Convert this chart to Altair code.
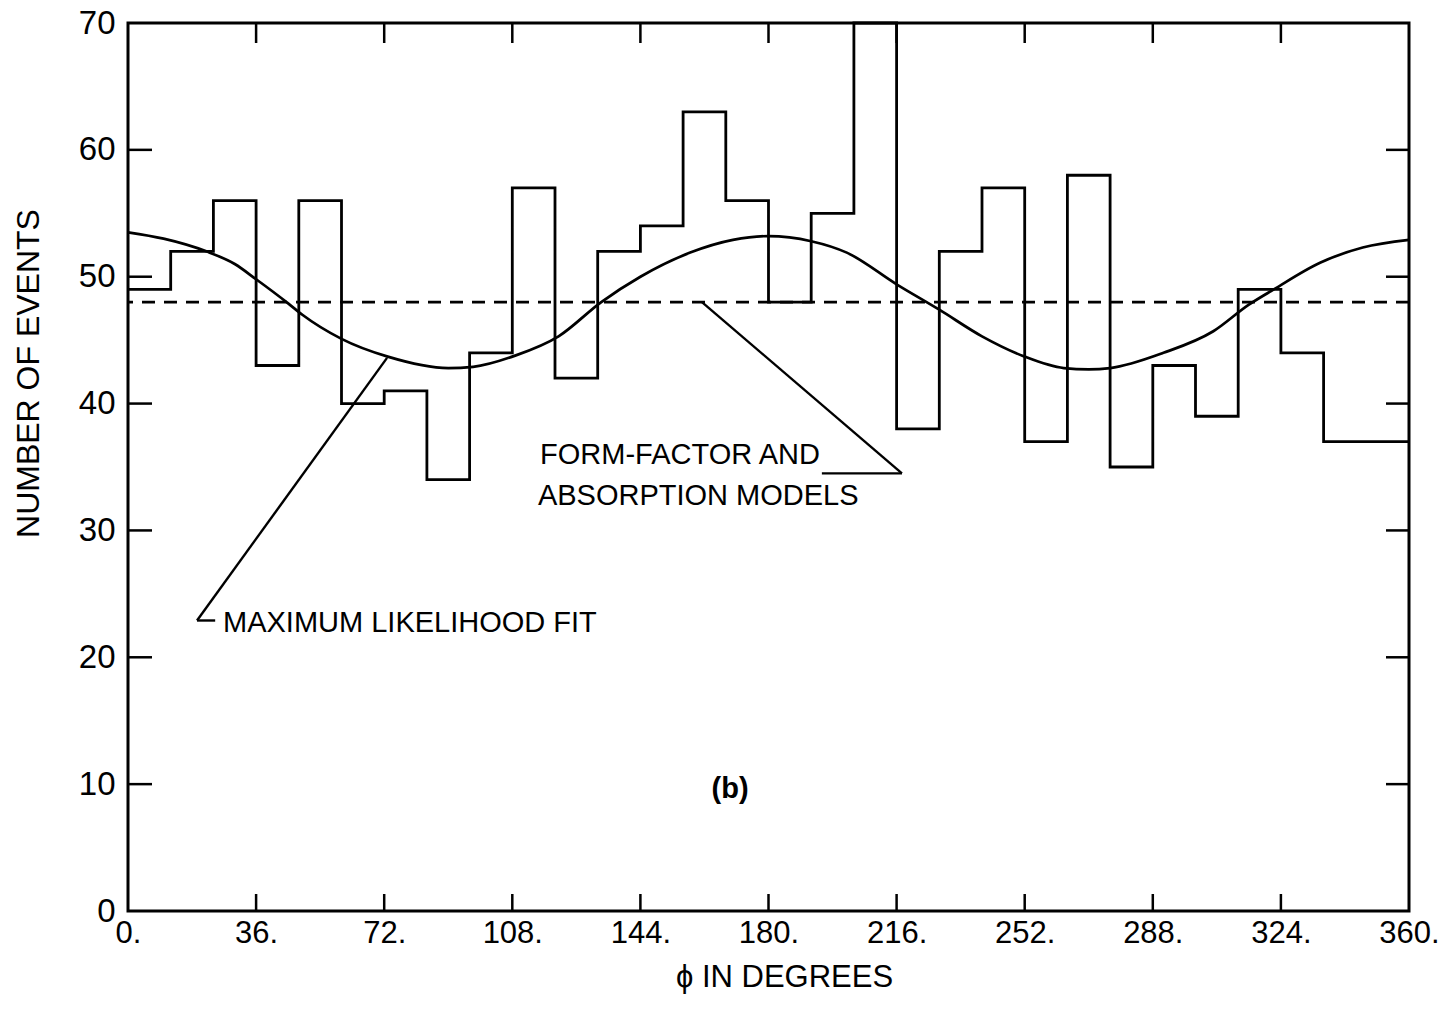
import altair as alt
import pandas as pd

# ---------------- data ----------------
# histogram: 12-degree bins of phi, number of events
bin_left = [0, 12, 24, 36, 48, 60, 72, 84, 96, 108, 120, 132, 144, 156, 168,
            180, 192, 204, 216, 228, 240, 252, 264, 276, 288, 300, 312, 324, 336, 348]
bin_count = [49, 52, 56, 43, 56, 40, 41, 34, 44, 57, 42, 52, 54, 63, 56,
             48, 55, 70, 38, 52, 57, 37, 58, 35, 43, 39, 49, 44, 37, 37]
phi_end = 360

# maximum likelihood fit curve
fit_phi = [0, 10, 22, 30, 36, 45, 49, 60, 73, 90, 97, 109, 121, 133, 144, 158,
           170, 180, 192, 202, 216, 228, 240, 252, 263, 270, 276, 291, 305, 315,
           322, 335, 347, 360]
fit_val = [53.5, 53.0, 52.0, 51.0, 49.8, 47.9, 47.0, 45.1, 43.7, 42.8, 42.9, 43.8,
           45.3, 48.0, 50.0, 51.9, 52.9, 53.2, 52.8, 51.9, 49.4, 47.4, 45.3, 43.7,
           42.8, 42.7, 42.8, 44.0, 45.7, 47.8, 49.0, 51.1, 52.3, 52.9]

# form-factor and absorption models (flat)
flat_level = [48]

# axes
x_tick_values = [0, 36, 72, 108, 144, 180, 216, 252, 288, 324, 360]
y_tick_values = [0, 10, 20, 30, 40, 50, 60, 70]
x_inner_ticks = [36, 72, 108, 144, 180, 216, 252, 288, 324]
y_inner_ticks = [10, 20, 30, 40, 50, 60]

# annotations
note_text = ["FORM-FACTOR AND", "ABSORPTION MODELS", "MAXIMUM LIKELIHOOD FIT", "(b)"]

# ---------------- layout / styling ----------------
W, H = 1281, 888
FONT = "Liberation Sans"

note_pos_x = [115.8, 115.2, 26.7, 169.2]
note_pos_y = [35.2, 32.0, 22.0, 8.9]
note_align = ["left", "left", "left", "center"]

lead_x = [161.3, 195.0, 72.8, 19.4]
lead_y = [48.0, 34.5, 43.6, 22.9]
lead_x2 = [217.5, 217.5, 19.4, 24.5]
lead_y2 = [34.5, 34.5, 22.9, 22.9]

x_scale = alt.Scale(domain=[0, 360], nice=False, zero=False)
y_scale = alt.Scale(domain=[0, 70], nice=False, zero=False)

x_axis = alt.Axis(
    values=x_tick_values, labelExpr="datum.value + '.'", labelFont=FONT,
    labelFontSize=31, labelColor="black", labelPadding=7, labelFlush=False,
    ticks=False, domain=False, grid=False,
    title="ϕ IN DEGREES", titleFont=FONT, titleFontSize=31, titleFontWeight="normal",
    titleColor="black", titleX=656, titleY=75, titleBaseline="alphabetic",
)
y_axis = alt.Axis(
    values=y_tick_values, labelFont=FONT, labelFontSize=33, labelColor="black",
    labelPadding=13, labelFlush=False, ticks=False, domain=False, grid=False,
    title="NUMBER OF EVENTS", titleFont=FONT, titleFontSize=32,
    titleFontWeight="normal", titleColor="black", titleX=-100, titleY=350,
    titleBaseline="middle", titleAngle=270,
)


def X(field):
    return alt.X(field, scale=x_scale, axis=x_axis)


def Y(field):
    return alt.Y(field, scale=y_scale, axis=y_axis)


hist_df = pd.DataFrame({"phi": bin_left + [phi_end],
                        "n": bin_count + [bin_count[-1]]})
hist = alt.Chart(hist_df).mark_line(
    interpolate="step-after", color="black", strokeWidth=2.8, strokeJoin="miter"
).encode(x=X("phi:Q"), y=Y("n:Q"))

fit_df = pd.DataFrame({"phi": fit_phi, "v": fit_val})
fit = alt.Chart(fit_df).mark_line(
    interpolate="monotone", color="black", strokeWidth=2.7
).encode(x=X("phi:Q"), y=Y("v:Q"))

flat = alt.Chart(pd.DataFrame({"v": flat_level})).mark_rule(
    color="black", strokeWidth=2.6, strokeDash=[13, 9]
).encode(y=Y("v:Q"))

lead_df = pd.DataFrame({"x": lead_x, "y": lead_y, "x2": lead_x2, "y2": lead_y2})
leads = alt.Chart(lead_df).mark_rule(color="black", strokeWidth=2.4).encode(
    x=X("x:Q"), y=Y("y:Q"), x2="x2:Q", y2="y2:Q",
)

note_df = pd.DataFrame({"x": note_pos_x, "y": note_pos_y, "t": note_text, "a": note_align})
notes_left = alt.Chart(note_df[note_df.a == "left"]).mark_text(
    align="left", baseline="alphabetic", font=FONT, fontSize=29, color="black"
).encode(x=X("x:Q"), y=Y("y:Q"), text="t:N")
notes_center = alt.Chart(note_df[note_df.a == "center"]).mark_text(
    align="center", baseline="alphabetic", font=FONT, fontSize=29,
    fontWeight="bold", color="black"
).encode(x=X("x:Q"), y=Y("y:Q"), text="t:N")

xt = pd.DataFrame({"t": x_inner_ticks})
yt = pd.DataFrame({"t": y_inner_ticks})
tick_bottom = alt.Chart(xt).mark_rule(color="black", strokeWidth=2.5).encode(
    x=X("t:Q"), y=alt.value(H), y2=alt.value(H - 17))
tick_top = alt.Chart(xt).mark_rule(color="black", strokeWidth=2.5).encode(
    x=X("t:Q"), y=alt.value(0), y2=alt.value(20))
tick_left = alt.Chart(yt).mark_rule(color="black", strokeWidth=2.5).encode(
    y=Y("t:Q"), x=alt.value(0), x2=alt.value(24))
tick_right = alt.Chart(yt).mark_rule(color="black", strokeWidth=2.5).encode(
    y=Y("t:Q"), x=alt.value(W), x2=alt.value(W - 23))

chart = alt.layer(
    hist, fit, flat, leads, notes_left, notes_center,
    tick_bottom, tick_top, tick_left, tick_right,
).properties(
    width=W, height=H,
    padding={"left": 128, "top": 23, "right": 38, "bottom": 100},
    autosize="none",
    background="white",
).configure_view(
    stroke="black", strokeWidth=3
)

chart.save("out.html", embed_options={"renderer": "svg", "actions": False})
